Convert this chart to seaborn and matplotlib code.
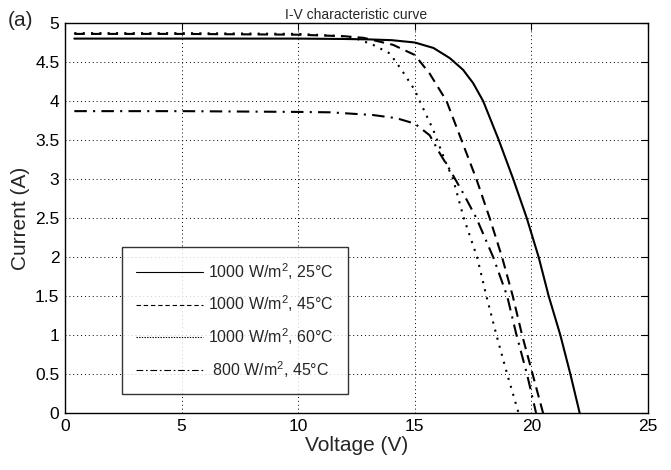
import pandas as pd
import matplotlib
matplotlib.use("Agg")
import matplotlib.pyplot as plt
import seaborn as sns

# values
v_25 = [0.4, 5, 10, 12, 13, 14, 15, 15.8, 16.5, 17.07, 17.5, 17.93, 18.6, 19.22, 19.8, 20.31, 20.74, 21.24, 21.67, 22.07]
i_25 = [4.80, 4.80, 4.80, 4.795, 4.79, 4.78, 4.75, 4.68, 4.55, 4.40, 4.23, 4.0, 3.5, 3.0, 2.5, 2.0, 1.5, 1.0, 0.5, 0.0]

v_45 = [0.4, 5, 10, 12, 12.8, 14.07, 15.0, 15.64, 16.36, 17.0, 17.64, 18.21, 18.74, 19.2, 19.6, 20.05, 20.5]
i_45 = [4.86, 4.86, 4.85, 4.83, 4.81, 4.72, 4.59, 4.35, 4.0, 3.5, 3.0, 2.5, 2.0, 1.5, 1.0, 0.5, 0.0]

v_60 = [0.4, 5, 10, 12, 12.5, 13.21, 13.93, 14.43, 15.0, 15.21, 15.79, 16.29, 16.64, 17.1, 17.67, 18.07, 18.5, 18.96, 19.45]
i_60 = [4.87, 4.87, 4.86, 4.83, 4.80, 4.72, 4.61, 4.40, 4.14, 4.0, 3.63, 3.24, 3.0, 2.5, 2.0, 1.5, 1.0, 0.5, 0.0]

v_800 = [0.4, 5, 10, 11.36, 13.21, 14.21, 15.0, 15.64, 16.07, 16.5, 17.07, 17.64, 18.36, 18.96, 19.36, 19.81, 20.2]
i_800 = [3.87, 3.87, 3.86, 3.855, 3.82, 3.78, 3.71, 3.56, 3.33, 3.12, 2.82, 2.5, 2.0, 1.5, 1.0, 0.5, 0.0]

labels = ["1000 W/m$^2$, 25°C", "1000 W/m$^2$, 45°C", "1000 W/m$^2$, 60°C", " 800 W/m$^2$, 45°C"]
styles = ["-", (0, (5, 3)), (0, (1, 3)), (0, (6, 3, 1, 3))]
legend_styles = ["-", (0, (4, 2.5)), (0, (1.2, 1.2)), (0, (6, 2.5, 1.5, 2.5))]

x_ticks = [0, 5, 10, 15, 20, 25]
y_ticks = [0, 0.5, 1, 1.5, 2, 2.5, 3, 3.5, 4, 4.5, 5]
y_ticklabels = ["0", "0.5", "1", "1.5", "2", "2.5", "3", "3.5", "4", "4.5", "5"]

sns.set_style("white")
plt.rcParams["font.family"] = ["Liberation Sans", "DejaVu Sans"]
plt.rcParams["mathtext.fontset"] = "custom"
plt.rcParams["mathtext.rm"] = "Liberation Sans"

fig = plt.figure(figsize=(6.71, 4.70), dpi=100)
ax = fig.add_axes([65 / 671, 1 - 413 / 470, (648 - 65) / 671, (413 - 23) / 470])

curves = [(v_25, i_25), (v_45, i_45), (v_60, i_60), (v_800, i_800)]
for (v, i), lab, ls in zip(curves, labels, styles):
    df = pd.DataFrame({"Voltage": v, "Current": i})
    sns.lineplot(data=df, x="Voltage", y="Current", sort=False, ax=ax,
                 color="black", linewidth=1.5, linestyle=ls, label=lab)

ax.set_xlim(0, 25)
ax.set_ylim(0, 5)
ax.set_xticks(x_ticks)
ax.set_yticks(y_ticks)
ax.set_yticklabels(y_ticklabels)
ax.grid(True, color="black", linestyle=(0, (1, 3)), linewidth=0.7)
ax.tick_params(direction="in", length=5, width=0.8, labelsize=12.5, colors="black",
               top=True, right=True, pad=4)
for sp in ax.spines.values():
    sp.set_color("black")
    sp.set_linewidth(1.0)

ax.set_xlabel("Voltage (V)", fontsize=15, labelpad=2)
ax.set_ylabel("Current (A)", fontsize=15, labelpad=4)
ax.set_title("I-V characteristic curve", fontsize=10, pad=3)
fig.text(8 / 671, 1 - 20 / 470, "(a)", fontsize=15, va="center", ha="left")

leg = ax.legend(loc="lower left", bbox_to_anchor=((122 - 65) / 583, (413 - 394) / 390),
                frameon=True, fancybox=False, edgecolor="black", fontsize=11.5,
                handlelength=4.2, handletextpad=0.3, borderpad=0.9, labelspacing=0.75,
                borderaxespad=0)
leg.get_frame().set_linewidth(1.0)
for h, ls in zip(leg.get_lines(), legend_styles):
    h.set_linewidth(0.8)
    h.set_linestyle(ls)

fig.savefig("out.png", dpi=100)
